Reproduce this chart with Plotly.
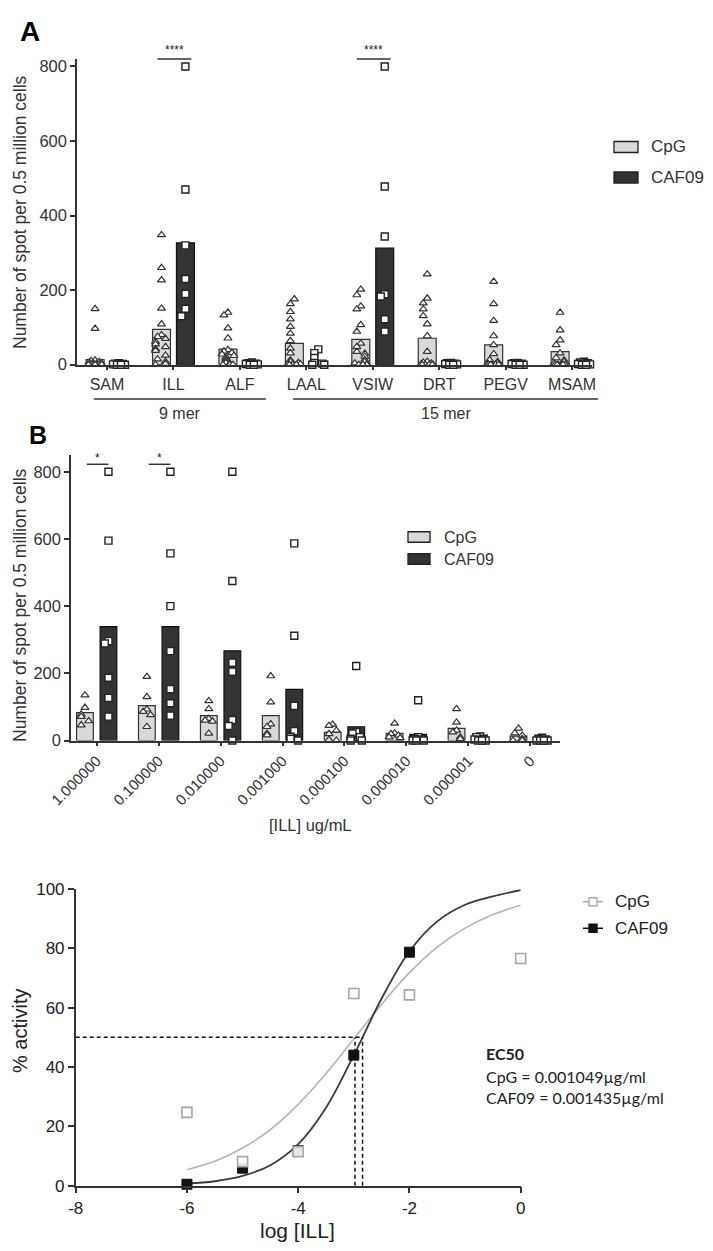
import math
import plotly.graph_objects as go

# The page body keeps an 8px default margin, so the figure is drawn 16px smaller
# and all reference pixel positions are shifted by that margin.
PAGE_W, PAGE_H = 713, 1251
BODY = 8
W, H = PAGE_W - 2 * BODY, PAGE_H - 2 * BODY

# ---------------- data: panel A ----------------
A_cats = ["SAM", "ILL", "ALF", "LAAL", "VSIW", "DRT", "PEGV", "MSAM"]
A_cpg_mean = [14, 95, 42, 57, 68, 71, 53, 35]
A_caf_mean = [3, 327, 3, 9, 313, 3, 3, 4]
A_cpg_pts = [
    [150, 97, 12, 10, 8, 6, 5, 4, 3, 2, 2, 1, 0, 0, 0, 0, 0, 0],
    [348, 260, 227, 151, 109, 80, 75, 70, 62, 55, 48, 42, 38, 25, 15, 8, 3, 0],
    [140, 133, 98, 71, 40, 36, 32, 28, 24, 20, 16, 12, 8, 5, 3, 0, 0, 0],
    [176, 163, 142, 122, 102, 84, 64, 44, 31, 12, 8, 5, 3, 2, 0, 0, 0],
    [202, 187, 157, 149, 107, 89, 57, 48, 35, 30, 22, 13, 8, 4, 2, 0, 0, 0],
    [243, 178, 165, 149, 131, 109, 77, 35, 8, 6, 4, 2, 0, 0, 0, 0, 0],
    [223, 163, 118, 77, 53, 29, 13, 8, 5, 3, 0, 0, 0, 0, 0, 0],
    [140, 93, 66, 53, 31, 18, 12, 8, 4, 2, 0, 0, 0, 0, 0, 0],
]
A_caf_pts = [
    [4, 3, 2, 1, 0, 0, 0],
    [800, 470, 320, 230, 190, 150, 130],
    [6, 4, 3, 2, 1, 0, 0],
    [41, 31, 18, 5, 3, 0, 0],
    [800, 478, 344, 189, 183, 122, 89],
    [5, 4, 3, 2, 1, 0, 0],
    [5, 4, 3, 2, 0, 0, 0],
    [8, 6, 4, 2, 1, 0, 0],
]
A_sig = {"ILL": "****", "VSIW": "****"}
A_groups = [("9 mer", "SAM", "ALF"), ("15 mer", "LAAL", "MSAM")]

# ---------------- data: panel B ----------------
B_conc = ["1.000000", "0.100000", "0.010000", "0.001000",
          "0.000100", "0.000010", "0.000001", "0"]
B_cpg_mean = [83, 104, 74, 74, 24, 21, 36, 13]
B_caf_mean = [339, 339, 267, 152, 41, 18, 8, 4]
B_cpg_pts = [
    [135, 98, 78, 71, 58, 46],
    [190, 130, 93, 86, 76, 41],
    [118, 94, 65, 60, 57, 21],
    [192, 114, 49, 41, 21, 16],
    [48, 44, 30, 20, 2, 0],
    [51, 22, 20, 15, 10, 8],
    [94, 54, 30, 25, 10, 5],
    [36, 22, 15, 5, 0, 0],
]
B_caf_pts = [
    [800, 595, 296, 289, 187, 127, 71],
    [800, 557, 400, 266, 153, 111, 74],
    [800, 475, 232, 205, 61, 43, 0],
    [587, 312, 103, 28, 11, 5, 0],
    [222, 25, 21, 10, 5, 0, 0],
    [120, 10, 5, 3, 0, 0, 0],
    [12, 10, 5, 3, 0, 0, 0],
    [8, 5, 3, 0, 0, 0, 0],
]
B_sig = {"1.000000": "*", "0.100000": "*"}

# ---------------- data: panel C ----------------
C_logx = [-6, -5, -4, -3, -2, -1, 0]
C_cpg = [24.7, 8.1, 11.5, 64.8, 64.3, 100.2, 76.6]
C_caf_logx = [-6, -5, -4, -3, -2, 0]
C_caf = [0.5, 5.9, 11.8, 44.0, 78.7, 100.2]
C_fit_x = [-6, -5.5, -5, -4.5, -4, -3.5, -3, -2.5, -2, -1.5, -1, -0.5, 0]
C_cpg_fit = [5.4, 8.2, 12.7, 18.9, 27.4, 37.8, 49.5, 61.2, 71.8, 80.4, 86.8, 91.4, 94.5]
C_caf_fit = [0.7, 1.5, 3.3, 6.9, 14.0, 26.3, 44.0, 63.1, 79.0, 89.1, 94.7, 97.5, 99.6]
EC50_CPG = 0.001049
EC50_CAF = 0.001435

# ---------------- layout geometry ----------------
FONT = "Liberation Sans, Arial, sans-serif"
TXT = "#333333"
AX = "#333333"


def px(x):
    return (x - BODY) / W


def py(y):
    return 1 - (y - BODY) / H


A_dom_x = [px(77), px(592)]
A_dom_y = [py(364.7), py(59)]
A_rx = [-0.452, 7.30]
A_ry = [0, 820]
B_dom_x = [px(71), px(560)]
B_dom_y = [py(740.5), py(455)]
B_rx = [-0.415, 7.48]
B_ry = [0, 850]
C_dom_x = [px(75.7), px(520.7)]
C_dom_y = [py(1185.7), py(889)]


def cat2paper(v, dom, rng):
    return dom[0] + (v - rng[0]) / (rng[1] - rng[0]) * (dom[1] - dom[0])


PATTERN = [0, -0.06, 0.06, -0.09, 0.09, -0.03, 0.03, -0.075, 0.075,
           -0.045, 0.045, -0.015, 0.015, -0.1, 0.1]


def spread(vals, thr):
    offs, placed = [], []
    for v in vals:
        n = sum(1 for p in placed if abs(p - v) < thr)
        offs.append(PATTERN[n % len(PATTERN)])
        placed.append(v)
    return offs


fig = go.Figure()
BW = 0.27
tri_marker = dict(symbol="triangle-up", size=7, color="white",
                  line=dict(color="#333333", width=1.2))
sq_marker = dict(symbol="square", size=7, color="white",
                 line=dict(color="#222222", width=1.4))


def add_bar_panel(xa, ya, cats, cpg_mean, caf_mean, cpg_pts, caf_pts, thr, off):
    n = len(cats)
    fig.add_trace(go.Bar(x=[i - off for i in range(n)], y=cpg_mean, width=BW,
                         marker=dict(color="#d9d9d9", line=dict(color="#333333", width=1.2)),
                         xaxis=xa, yaxis=ya, showlegend=False, hoverinfo="skip"))
    fig.add_trace(go.Bar(x=[i + off for i in range(n)], y=caf_mean, width=BW,
                         marker=dict(color="#333333", line=dict(color="#111111", width=1.2)),
                         xaxis=xa, yaxis=ya, showlegend=False, hoverinfo="skip"))
    xs, ys = [], []
    for i, pts in enumerate(cpg_pts):
        for o, v in zip(spread(pts, thr), pts):
            xs.append(i - off + o)
            ys.append(v)
    fig.add_trace(go.Scatter(x=xs, y=ys, mode="markers", marker=tri_marker,
                             xaxis=xa, yaxis=ya, showlegend=False, cliponaxis=False))
    xs, ys = [], []
    for i, pts in enumerate(caf_pts):
        for o, v in zip(spread(pts, thr), pts):
            xs.append(i + off + o)
            ys.append(v)
    fig.add_trace(go.Scatter(x=xs, y=ys, mode="markers", marker=sq_marker,
                             xaxis=xa, yaxis=ya, showlegend=False, cliponaxis=False))


add_bar_panel("x", "y", A_cats, A_cpg_mean, A_caf_mean, A_cpg_pts, A_caf_pts, 22, 0.18)
add_bar_panel("x2", "y2", B_conc, B_cpg_mean, B_caf_mean, B_cpg_pts, B_caf_pts, 22, 0.19)

fig.add_trace(go.Scatter(x=C_fit_x, y=C_cpg_fit, mode="lines", line=dict(color="#b5b5b5", width=1.6, shape="spline"),
                         xaxis="x3", yaxis="y3", showlegend=False, cliponaxis=False))
fig.add_trace(go.Scatter(x=C_fit_x, y=C_caf_fit, mode="lines", line=dict(color="#3a3a3a", width=1.8, shape="spline"),
                         xaxis="x3", yaxis="y3", showlegend=False, cliponaxis=False))
fig.add_trace(go.Scatter(x=C_caf_logx, y=C_caf, mode="markers",
                         marker=dict(symbol="square", size=10, color="#111111", line=dict(color="#111111", width=1)),
                         xaxis="x3", yaxis="y3", showlegend=False, cliponaxis=False))
fig.add_trace(go.Scatter(x=C_logx, y=C_cpg, mode="markers",
                         marker=dict(symbol="square", size=10, color="rgba(255,255,255,0.9)",
                                     line=dict(color="#a8a8a8", width=1.6)),
                         xaxis="x3", yaxis="y3", showlegend=False, cliponaxis=False))

axis_common = dict(showgrid=False, zeroline=False, showline=True, linecolor=AX, linewidth=1.5,
                   ticks="outside", tickcolor=AX, tickwidth=1.5, fixedrange=True, automargin=False)

layout = dict(
    width=W, height=H, margin=dict(l=0, r=0, t=0, b=0, pad=0, autoexpand=False),
    paper_bgcolor="white", plot_bgcolor="white", barmode="overlay",
    font=dict(family=FONT, color=TXT),
    xaxis=dict(domain=A_dom_x, range=A_rx, anchor="y", tickvals=list(range(len(A_cats))),
               ticktext=A_cats, ticklen=4, tickfont=dict(size=16, color=TXT), **axis_common),
    yaxis=dict(domain=A_dom_y, range=A_ry, anchor="x", tickvals=[0, 200, 400, 600, 800],
               ticklen=5, tickfont=dict(size=16.5, color=TXT), **axis_common),
    xaxis2=dict(domain=B_dom_x, range=B_rx, anchor="y2", tickvals=list(range(len(B_conc))),
                ticktext=B_conc, tickangle=-45, ticklen=4, tickfont=dict(size=15, color=TXT), **axis_common),
    yaxis2=dict(domain=B_dom_y, range=B_ry, anchor="x2", tickvals=[0, 200, 400, 600, 800],
                ticklen=5, tickfont=dict(size=16.5, color=TXT), **axis_common),
    xaxis3=dict(domain=C_dom_x, range=[-8, 0], anchor="y3", tickvals=[-8, -6, -4, -2, 0],
                ticktext=["-8", "-6", "-4", "-2", "0"],
                ticklen=6, tickfont=dict(size=17, color="#222"), **axis_common),
    yaxis3=dict(domain=C_dom_y, range=[0, 100], anchor="x3", tickvals=[0, 20, 40, 60, 80, 100],
                ticklen=6, tickfont=dict(size=17, color="#222"), **axis_common),
)
fig.update_layout(**layout)

shapes = []
ann = []


def note(text, x, y, size, color=TXT, xa="center", ya="middle", angle=0, family=None):
    f = dict(size=size, color=color)
    if family:
        f["family"] = family
    ann.append(dict(text=text, x=px(x), y=py(y), xanchor=xa, yanchor=ya, textangle=angle,
                    font=f, showarrow=False, xref="paper", yref="paper"))


note("<b>A</b>", 18, 14, 28, color="#000", xa="left", ya="top")
note("<b>B</b>", 27, 419, 25, color="#000", xa="left", ya="top")
note("Number of spot per 0.5 million cells", 20, 212, 17.5, angle=-90)
note("Number of spot per 0.5 million cells", 20, 605, 17.5, angle=-90)
note("[ILL] ug/mL", 310, 825, 16.5)
note("% activity", 20, 1031, 20, color="#222", angle=-90)
note("log [ILL]", 297, 1230, 21, color="#222")


def hline(x0p, x1p, yp, color=AX, width=1.5):
    shapes.append(dict(type="line", xref="paper", yref="paper", x0=x0p, x1=x1p, y0=py(yp), y1=py(yp),
                       line=dict(color=color, width=width)))


for cat, stars in A_sig.items():
    i = A_cats.index(cat)
    x0 = cat2paper(i - 0.24, A_dom_x, A_rx)
    x1 = cat2paper(i + 0.27, A_dom_x, A_rx)
    hline(x0, x1, 59)
    ann.append(dict(text=stars, x=(x0 + x1) / 2, y=py(50), xanchor="center", yanchor="middle",
                    font=dict(size=12, color="#222"), showarrow=False, xref="paper", yref="paper"))

for cat, stars in B_sig.items():
    i = B_conc.index(cat)
    x0 = cat2paper(i - 0.16, B_dom_x, B_rx)
    x1 = cat2paper(i + 0.19, B_dom_x, B_rx)
    hline(x0, x1, 464.3)
    ann.append(dict(text=stars, x=(x0 + x1) / 2, y=py(458), xanchor="center", yanchor="middle",
                    font=dict(size=12, color="#222"), showarrow=False, xref="paper", yref="paper"))

for label, c0, c1 in A_groups:
    i0 = A_cats.index(c0)
    i1 = A_cats.index(c1)
    x0 = cat2paper(i0 - 0.2, A_dom_x, A_rx)
    x1 = cat2paper(i1 + 0.39, A_dom_x, A_rx)
    hline(x0, x1, 399)
    ann.append(dict(text=label, x=(x0 + x1) / 2, y=py(413), xanchor="center", yanchor="middle",
                    font=dict(size=16, color=TXT), showarrow=False, xref="paper", yref="paper"))


def bar_legend(x_box, y1, y2, w, h, x_txt, fs):
    for (yc, col, name) in [(y1, "#d9d9d9", "CpG"), (y2, "#333333", "CAF09")]:
        shapes.append(dict(type="rect", xref="paper", yref="paper", x0=px(x_box), x1=px(x_box + w),
                           y0=py(yc + h / 2), y1=py(yc - h / 2), fillcolor=col,
                           line=dict(color="#222", width=1.3)))
        note(name, x_txt, yc, fs, xa="left")


bar_legend(614, 147, 177.5, 24, 11, 649, 17)
bar_legend(408, 537, 559, 22, 10.5, 442, 16)

for (yc, lc, mfill, name) in [(901.7, "#aaaaaa", "white", "CpG"), (928.3, "#111111", "#111111", "CAF09")]:
    shapes.append(dict(type="line", xref="paper", yref="paper", x0=px(583), x1=px(603), y0=py(yc), y1=py(yc),
                       line=dict(color=lc, width=1.5)))
    shapes.append(dict(type="rect", xref="paper", yref="paper", x0=px(589), x1=px(597),
                       y0=py(yc + 4), y1=py(yc - 4), fillcolor=mfill, line=dict(color=lc, width=1.4)))
    note(name, 613, yc, 17, color="#222", xa="left")

lx_cpg = math.log10(EC50_CPG)
lx_caf = math.log10(EC50_CAF)
dash = dict(color="#111111", width=1.5, dash="4px,3px")
shapes.append(dict(type="line", xref="x3", yref="y3", x0=-8, x1=lx_caf, y0=50, y1=50, line=dash))
shapes.append(dict(type="line", xref="x3", yref="y3", x0=lx_cpg, x1=lx_cpg, y0=0, y1=50, line=dash))
shapes.append(dict(type="line", xref="x3", yref="y3", x0=lx_caf, x1=lx_caf, y0=0, y1=50, line=dash))

EC_FONT = "Lato, Open Sans, sans-serif"
note("<b>EC50</b>", 484, 1053, 16, color="#222", xa="left", family=EC_FONT)
note("CpG = %.6fµg/ml" % EC50_CPG, 484, 1076, 16, color="#222", xa="left", family=EC_FONT)
note("CAF09 = %.6fµg/ml" % EC50_CAF, 484, 1097, 16, color="#222", xa="left", family=EC_FONT)

fig.update_layout(shapes=shapes, annotations=ann)
fig.write_html("out.html")
